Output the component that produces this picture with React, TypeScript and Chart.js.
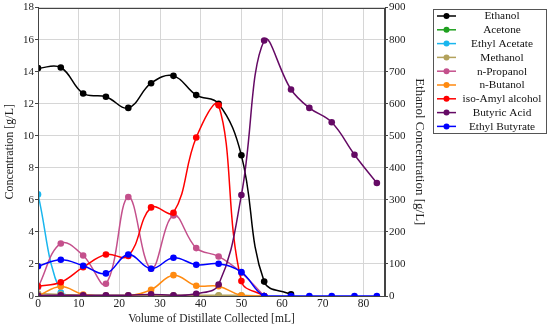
import React, { useEffect, useRef } from "react";
import { Chart, registerables } from "chart.js";

Chart.register(...registerables);

const X_VALUES = [0, 5.6, 11.1, 16.7, 22.2, 27.8, 33.3, 38.9, 44.4, 50, 55.6, 62.2, 66.7, 72.2, 77.8, 83.3];

// Ethanol is read on the right axis (Ethanol Concentration [g/L])
const ETHANOL = [711, 713, 632, 622, 587, 664, 687, 627, 600, 439, 45, 5];
const ACETONE = [0.03, 0.02, 0.02, 0.02, 0.02, 0.02, 0.02, 0.02, 0.02, 0.02, 0];
const ETHYL_ACETATE = [6.34, 0.22, 0, 0, 0, 0, 0, 0, 0, 0, 0];
const METHANOL = [0.15, 0.1, 0.05, 0.05, 0.05, 0.05, 0.05, 0.05, 0.05, 0.05, 0];
const N_PROPANOL = [0.55, 3.28, 2.53, 0.76, 6.18, 1.7, 5.03, 2.99, 2.47, 1.45, 0];
const N_BUTANOL = [0.0, 0.59, 0.09, 0, 0, 0.39, 1.3, 0.64, 0.61, 0.03, 0];
const ISO_AMYL = [0.61, 0.86, 1.8, 2.59, 2.5, 5.53, 5.2, 9.89, 11.9, 0.93, 0];
const BUTYRIC_ACID = [0.03, 0.05, 0.05, 0.05, 0.05, 0.1, 0.05, 0.14, 0.72, 6.3, 15.95, 12.89, 11.74, 10.84, 8.82, 7.05];
const ETHYL_BUTYRATE = [1.86, 2.26, 1.89, 1.41, 2.59, 1.7, 2.39, 1.95, 2.01, 1.49, 0, 0, 0, 0, 0, 0];

const SERIES_NAMES = ["Ethanol", "Acetone", "Ethyl Acetate", "Methanol", "n-Propanol", "n-Butanol", "iso-Amyl alcohol", "Butyric Acid", "Ethyl Butyrate"];
const SERIES_VALUES = [ETHANOL, ACETONE, ETHYL_ACETATE, METHANOL, N_PROPANOL, N_BUTANOL, ISO_AMYL, BUTYRIC_ACID, ETHYL_BUTYRATE];
const SERIES_COLORS = ["#000000", "#1fa01f", "#1ab6ee", "#b3a25c", "#c4508c", "#ff8a10", "#ff0000", "#650a65", "#0000ff"];
const SERIES_AXIS = ["y1", "y", "y", "y", "y", "y", "y", "y", "y"];

const X_TICKS = [0, 10, 20, 30, 40, 50, 60, 70, 80];

const FONT = "'Liberation Serif', 'DejaVu Serif', serif";

export default function App() {
  const ref = useRef<HTMLCanvasElement | null>(null);

  useEffect(() => {
    document.body.style.margin = "0";
    const canvas = ref.current!;
    const legendPlugin = {
      id: "boxLegend",
      afterDraw(chart: any) {
        const ctx = chart.ctx;
        ctx.save();
        const bx = 433.5, by = 9.5, bw = 113, bh = 124;
        ctx.fillStyle = "#ffffff";
        ctx.fillRect(bx, by, bw, bh);
        ctx.strokeStyle = "#555555";
        ctx.lineWidth = 1;
        ctx.strokeRect(bx, by, bw, bh);
        ctx.font = `11.3px ${FONT}`;
        ctx.textAlign = "center";
        ctx.textBaseline = "middle";
        SERIES_NAMES.forEach((name, i) => {
          const y = 16 + i * 13.8;
          ctx.strokeStyle = SERIES_COLORS[i];
          ctx.lineWidth = 1.5;
          ctx.beginPath();
          ctx.moveTo(437, y);
          ctx.lineTo(456, y);
          ctx.stroke();
          ctx.fillStyle = SERIES_COLORS[i];
          ctx.beginPath();
          ctx.arc(446.5, y, 3, 0, Math.PI * 2);
          ctx.fill();
          ctx.fillStyle = "#111111";
          ctx.fillText(name, 502, y + 0.5);
        });
        ctx.restore();
      },
    };
    const framePlugin = {
      id: "frame",
      afterDatasetsDraw(chart: any) {
        const { ctx, chartArea } = chart;
        ctx.save();
        ctx.strokeStyle = "#444444";
        ctx.lineWidth = 1;
        ctx.strokeRect(Math.round(chartArea.left) + 0.5, Math.round(chartArea.top) + 0.5,
          Math.round(chartArea.right - chartArea.left) - 1, Math.round(chartArea.bottom - chartArea.top));
        ctx.restore();
      },
    };

    const datasets = SERIES_NAMES.map((name, i) => ({
      label: name,
      data: SERIES_VALUES[i].map((v, j) => ({ x: X_VALUES[j], y: v })),
      borderColor: SERIES_COLORS[i],
      backgroundColor: SERIES_COLORS[i],
      pointBackgroundColor: SERIES_COLORS[i],
      pointBorderColor: SERIES_COLORS[i],
      pointRadius: 3.3,
      pointBorderWidth: 0,
      borderWidth: 1.5,
      tension: 0.4,
      yAxisID: SERIES_AXIS[i],
      order: SERIES_NAMES.length - i,
    }));

    const chart = new Chart(canvas, {
      type: "line",
      data: { datasets },
      plugins: [framePlugin, legendPlugin],
      options: {
        animation: false,
        responsive: false,
        maintainAspectRatio: false,
        devicePixelRatio: 1,
        layout: { padding: { left: 0, right: 122, top: 7, bottom: 0 } },
        plugins: { legend: { display: false }, tooltip: { enabled: false } },
        scales: {
          x: {
            type: "linear",
            min: 0,
            max: 85.3,
            afterBuildTicks: (s: any) => {
              s.ticks = X_TICKS.map((v) => ({ value: v }));
            },
            afterFit: (s: any) => { s.height = 31; },
            ticks: { color: "#222", font: { family: FONT, size: 11.5 }, padding: 1, maxRotation: 0 },
            grid: { color: "#d6d6d6", drawTicks: false },
            border: { color: "#444", display: true },
            title: {
              display: true,
              text: "Volume of Distillate Collected [mL]",
              color: "#222",
              font: { family: FONT, size: 11.5 },
              padding: { top: 0, bottom: 1 },
            },
          },
          y: {
            position: "left",
            min: 0,
            max: 18,
            ticks: { stepSize: 2, color: "#222", font: { family: FONT, size: 11 }, padding: 1 },
            afterFit: (s: any) => { s.width = 38; },
            grid: { color: "#d6d6d6", tickLength: 3, tickColor: "#444" },
            border: { color: "#444" },
            title: {
              display: true,
              text: "Concentration [g/L]",
              color: "#222",
              font: { family: FONT, size: 12 },
              padding: 3,
            },
          },
          y1: {
            position: "right",
            min: 0,
            max: 900,
            ticks: { stepSize: 100, color: "#222", font: { family: FONT, size: 11 }, padding: 1 },
            afterFit: (s: any) => { s.width = 43; },
            grid: { drawOnChartArea: false, tickLength: 3, tickColor: "#444" },
            border: { color: "#444" },
            title: {
              display: true,
              text: "Ethanol Concentration [g/L]",
              color: "#222",
              font: { family: FONT, size: 13 },
              padding: 1,
            },
          },
        },
      },
    } as any);
    return () => chart.destroy();
  }, []);

  return (
    <div style={{ position: "fixed", left: 0, top: 0, width: 550, height: 327, background: "#fff" }}>
      <canvas ref={ref} width={550} height={327} style={{ width: 550, height: 327, display: "block" }} />
    </div>
  );
}
